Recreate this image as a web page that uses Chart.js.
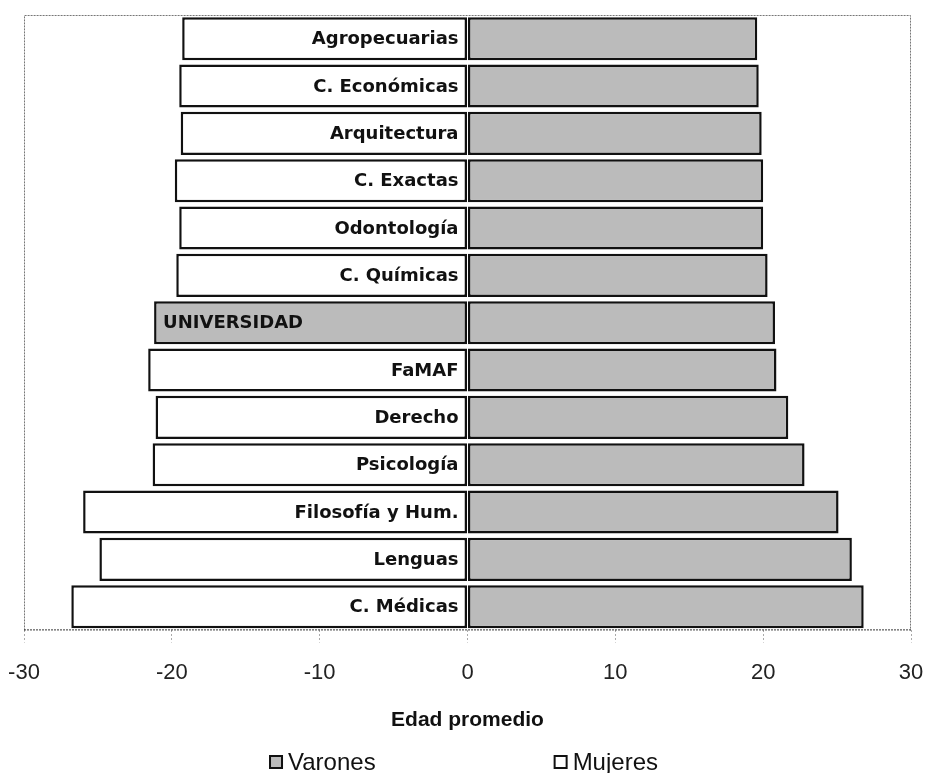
<!DOCTYPE html>
<html>
<head>
<meta charset="utf-8">
<script src="https://cdn.jsdelivr.net/npm/chart.js@4.4.1/dist/chart.umd.min.js"></script>
<style>
  html, body { margin: 0; padding: 0; background: #fff; }
  #wrap { width: 928px; height: 773px; }
</style>
</head>
<body>
<div id="wrap"><canvas id="chart"></canvas></div>
<script>
var categories = ['Agropecuarias', 'C. Económicas', 'Arquitectura', 'C. Exactas', 'Odontología', 'C. Químicas', 'UNIVERSIDAD', 'FaMAF', 'Derecho', 'Psicología', 'Filosofía y Hum.', 'Lenguas', 'C. Médicas'];
var varones = [19.6, 19.7, 19.9, 20.0, 20.0, 20.3, 20.8, 20.9, 21.7, 22.8, 25.1, 26.0, 26.8];
var mujeres = [19.3, 19.5, 19.4, 19.8, 19.5, 19.7, 21.2, 21.6, 21.1, 21.3, 26.0, 24.9, 26.8];
var xTicks = [-30, -20, -10, 0, 10, 20, 30];
var highlight = 'UNIVERSIDAD';

var GRAY = '#bbbbbb';

// mujeres go to the left of zero
var mujeresLeft = mujeres.map(function(v) { return -v; });
var mujeresColors = categories.map(function(c) { return c === highlight ? GRAY : '#ffffff'; });

var frame = {
    id: 'frame',
    beforeDatasetsDraw: function(chart) {
        var a = chart.chartArea;
        var ctx = chart.ctx;
        ctx.save();
        ctx.lineWidth = 1;
        ctx.setLineDash([2, 1]);
        ctx.strokeStyle = '#777';
        ctx.beginPath();
        ctx.moveTo(a.left + 0.5, a.bottom);
        ctx.lineTo(a.left + 0.5, a.top + 0.5);
        ctx.lineTo(a.right - 0.5, a.top + 0.5);
        ctx.lineTo(a.right - 0.5, a.bottom);
        ctx.stroke();
        ctx.strokeStyle = '#333';
        ctx.beginPath();
        ctx.moveTo(a.left, a.bottom - 0.5);
        ctx.lineTo(a.right, a.bottom - 0.5);
        ctx.stroke();
        ctx.restore();
    }
};

var barLabels = {
    id: 'barLabels',
    afterDatasetsDraw: function(chart) {
        var ctx = chart.ctx;
        var xs = chart.scales.x;
        var ys = chart.scales.y;
        var x0 = xs.getPixelForValue(0);
        ctx.save();
        ctx.fillStyle = '#111';
        ctx.textBaseline = 'middle';
        ctx.font = 'bold 18px "DejaVu Sans", sans-serif';
        categories.forEach(function(c, i) {
            var y = ys.getPixelForValue(i);
            if (c === highlight) {
                // the total row is written from the left end of its bar
                ctx.textAlign = 'left';
                ctx.fillText(c, xs.getPixelForValue(-mujeres[i]) + 9, y + 1);
            } else {
                ctx.textAlign = 'right';
                ctx.fillText(c, x0 - 9, y + 1);
            }
        });
        ctx.restore();
    }
};

var legendBoxes = {
    id: 'legendBoxes',
    afterDraw: function(chart) {
        var ctx = chart.ctx;
        var items = [
            { text: 'Varones', color: GRAY },
            { text: 'Mujeres', color: '#ffffff' }
        ];
        var box = 14, gap = 5, between = 178;
        ctx.save();
        ctx.font = '24px "Liberation Sans", Arial, sans-serif';
        var total = 0;
        items.forEach(function(it, i) {
            it.w = ctx.measureText(it.text).width;
            total += box + gap + it.w + (i > 0 ? between : 0);
        });
        var a = chart.chartArea;
        var x = (a.left + a.right) / 2 - total / 2 - 4;
        var y = chart.height - 11;
        ctx.textBaseline = 'middle';
        ctx.textAlign = 'left';
        items.forEach(function(it) {
            ctx.fillStyle = it.color;
            ctx.fillRect(x, y - box / 2, box, box);
            ctx.lineWidth = 2;
            ctx.strokeStyle = '#111';
            ctx.strokeRect(x + 1, y - box / 2 + 1, box - 2, box - 2);
            ctx.fillStyle = '#111';
            ctx.fillText(it.text, x + box + gap, y + 1);
            x += box + gap + it.w + between;
        });
        ctx.restore();
    }
};

var chart = new Chart(document.getElementById('chart'), {
    type: 'bar',
    data: {
        labels: categories,
        datasets: [{
            label: 'Varones',
            data: varones,
            backgroundColor: GRAY,
            borderColor: '#111',
            borderWidth: 2.5,
            borderSkipped: false
        }, {
            label: 'Mujeres',
            data: mujeresLeft,
            backgroundColor: mujeresColors,
            borderColor: '#111',
            borderWidth: 2.5,
            borderSkipped: false
        }]
    },
    options: {
        indexAxis: 'y',
        responsive: true,
        maintainAspectRatio: false,
        animation: false,
        layout: { padding: { left: 24, right: 17, top: 15, bottom: 40 } },
        datasets: {
            bar: { categoryPercentage: 1, barPercentage: 0.91 }
        },
        scales: {
            x: {
                stacked: true,
                min: -30,
                max: 30,
                afterBuildTicks: function(axis) {
                    axis.ticks = xTicks.map(function(v) { return { value: v }; });
                },
                afterFit: function(axis) {
                    axis.paddingLeft = 0;
                    axis.paddingRight = 0;
                },
                grid: {
                    drawOnChartArea: false,
                    drawTicks: true,
                    tickLength: 12,
                    tickColor: '#aaa',
                    tickBorderDash: [2, 2]
                },
                border: { display: false },
                ticks: {
                    padding: 17,
                    color: '#222',
                    font: { family: '"Liberation Sans", Arial, sans-serif', size: 22 }
                },
                title: {
                    display: true,
                    text: 'Edad promedio',
                    color: '#111',
                    padding: { top: 5, bottom: 0 },
                    font: { family: '"Liberation Sans", Arial, sans-serif', size: 21, weight: 'bold' }
                }
            },
            y: {
                stacked: true,
                display: false
            }
        },
        plugins: {
            legend: { display: false },
            tooltip: { enabled: false }
        }
    },
    plugins: [frame, barLabels, legendBoxes]
});
</script>
</body>
</html>
